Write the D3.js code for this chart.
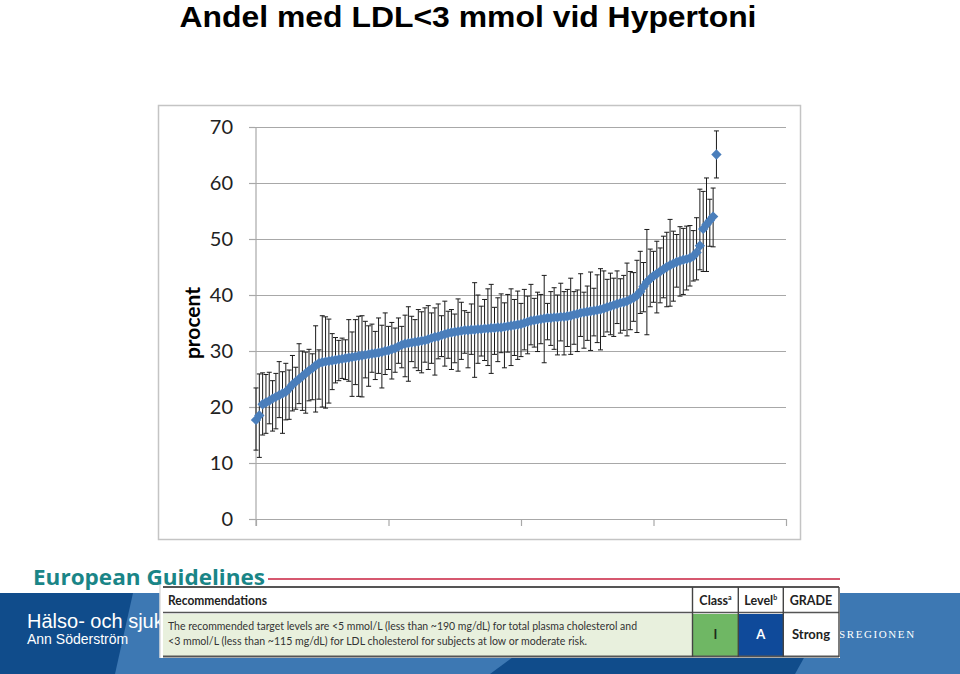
<!DOCTYPE html>
<html><head><meta charset="utf-8">
<script src="https://cdn.jsdelivr.net/npm/d3@7/dist/d3.min.js"></script>
<style>html,body{margin:0;padding:0;background:#fff;} svg{display:block;}</style>
</head><body>
<svg id="c" width="960" height="674"></svg>
<script>
// ---------- DATA ----------
const title = "Andel med LDL<3 mmol vid Hypertoni";
const yLabel = "procent";
const yTicks = [0, 10, 20, 30, 40, 50, 60, 70];
const xTickCats = [0, 40, 80, 120, 160];

const values = [
 17.7,18.5,20.5,20.8,21.1,21.5,21.8,22.1,22.4,22.7,
 23.3,24.0,24.5,25.0,25.5,26.0,26.5,26.9,27.4,27.8,
 28.0,28.1,28.2,28.3,28.4,28.5,28.6,28.7,28.8,28.9,
 29.0,29.1,29.2,29.3,29.4,29.5,29.6,29.7,29.8,30.0,
 30.1,30.3,30.5,30.8,31.1,31.3,31.4,31.5,31.6,31.7,
 31.8,31.9,32.1,32.3,32.5,32.6,32.8,33.0,33.2,33.3,
 33.4,33.5,33.6,33.7,33.7,33.8,33.8,33.9,33.9,34.0,
 34.0,34.1,34.1,34.2,34.2,34.3,34.4,34.5,34.6,34.7,
 34.8,35.0,35.2,35.4,35.5,35.6,35.7,35.8,35.9,35.9,
 36.0,36.0,36.1,36.1,36.2,36.3,36.5,36.6,36.8,36.9,
 37.0,37.1,37.2,37.3,37.4,37.6,37.8,38.0,38.2,38.4,
 38.6,38.7,38.9,39.2,39.5,39.9,40.6,41.5,42.3,42.9,
 43.4,43.8,44.2,44.6,45.0,45.3,45.6,45.9,46.1,46.3,
 46.4,46.6,46.9,47.6,48.8,51.8,52.6,53.3,54.0,65.1
];
const upper = [
 23.4,25.9,26.1,25.8,26.2,24.7,26.0,28.1,26.3,27.8,
 26.6,29.2,27.1,31.3,30.0,29.8,30.3,29.5,34.5,30.2,
 36.3,36.1,35.7,33.1,32.4,31.9,32.3,32.0,35.6,33.4,
 35.6,36.2,36.3,35.3,34.5,34.8,33.5,35.9,34.6,36.8,
 34.4,35.1,34.1,35.9,34.4,36.4,37.9,36.2,35.6,37.4,
 37.0,37.7,38.1,36.8,37.7,38.4,36.3,38.9,37.1,37.4,
 36.6,39.3,38.7,37.2,36.9,38.4,42.2,40.0,38.0,39.2,
 41.1,41.9,37.8,39.5,40.2,38.6,40.1,41.1,39.2,40.7,
 38.5,41.0,39.8,41.9,39.4,40.5,40.1,43.5,38.5,40.6,
 41.3,40.0,42.1,40.6,41.0,43.0,40.6,40.9,43.8,40.5,
 41.6,44.1,41.2,43.6,44.7,44.3,42.8,43.9,43.0,44.3,
 42.9,43.5,45.7,44.2,44.0,46.2,47.8,45.8,51.7,48.2,
 47.8,49.6,48.4,50.5,51.2,53.5,51.4,50.8,52.2,51.9,
 52.3,52.4,51.5,53.8,58.9,58.5,60.9,57.1,59.1,69.3
];
const lower = [
 12.3,11.0,15.0,15.3,17.0,15.7,16.1,18.1,15.3,17.7,
 17.8,19.3,19.6,20.6,19.4,18.9,21.1,21.3,19.1,21.4,
 20.0,19.8,20.7,23.1,24.3,24.7,25.1,24.9,24.6,21.9,
 24.0,21.9,21.8,25.2,23.7,26.2,24.9,26.0,23.4,25.8,
 26.7,25.0,26.2,27.8,27.0,25.4,24.6,28.1,27.0,26.5,
 26.1,28.0,26.7,27.8,25.7,28.6,29.0,27.3,28.7,26.7,
 27.9,26.4,28.5,29.6,27.0,29.4,25.3,27.8,29.1,28.3,
 27.4,26.0,29.4,28.1,29.7,27.0,29.8,27.4,29.2,28.5,
 29.0,30.2,29.5,31.1,30.7,29.9,31.3,27.9,32.0,31.0,
 30.3,29.3,31.8,29.3,30.8,29.4,31.2,29.9,32.6,30.5,
 31.9,30.1,32.7,31.5,30.2,32.6,33.4,32.9,32.6,34.9,
 33.2,33.7,32.7,33.8,35.3,33.3,36.7,37.0,32.9,37.9,
 38.7,36.8,38.6,39.5,37.9,38.0,38.9,41.4,39.8,40.1,
 40.9,41.6,42.5,42.7,44.5,44.2,44.2,48.7,48.6,60.9
];
const units = values.map((v, i) => i); // category index of each unit

const guideHeading = "European Guidelines";
const tableHead = ["Recommendations", "Class", "Level", "GRADE"];
const tableHeadSup = ["", "a", "b", ""];
const tableRow = [
  "The recommended target levels are <5 mmol/L (less than ~190 mg/dL) for total plasma cholesterol and",
  "<3 mmol/L (less than ~115 mg/dL) for LDL cholesterol for subjects at low or moderate risk."
];
const tableCells = ["I", "A", "Strong"];
const footerTexts = ["Hälso- och sjukv", "Ann Söderström", "SREGIONEN"];

// ---------- DRAW ----------
const svg = d3.select("#c");
svg.append("rect").attr("width", 960).attr("height", 674).attr("fill", "#fff");

// title
svg.append("text").attr("x", 468).attr("y", 27).attr("text-anchor", "middle")
  .attr("font-family", "Liberation Sans, Arial, sans-serif").attr("font-weight", "bold")
  .attr("font-size", 29.5).attr("textLength", 577).attr("lengthAdjust", "spacingAndGlyphs")
  .attr("fill", "#000").text(title);

// chart frame
svg.append("rect").attr("x", 158.5).attr("y", 105.5).attr("width", 642).attr("height", 434)
  .attr("fill", "#fff").attr("stroke", "#c4c4c4").attr("stroke-width", 1.5);

const x = d3.scaleLinear().domain([0, 160]).range([256, 786]);
const y = d3.scaleLinear().domain([0, 70]).range([519, 127]);

// gridlines
const grid = svg.append("g").attr("transform", "translate(256,0)")
  .call(d3.axisRight(y).tickValues(yTicks).tickSize(530).tickFormat(""));
grid.select(".domain").remove();
grid.selectAll("line").attr("stroke", "#a8a8a8").attr("stroke-width", 1.2);

// y axis
const ya = svg.append("g").attr("transform", "translate(256,0)")
  .call(d3.axisLeft(y).tickValues(yTicks).tickSize(7).tickSizeOuter(0).tickPadding(16));
ya.select(".domain").attr("stroke", "#a8a8a8").attr("stroke-width", 1.2)
  .attr("d", `M0,${y(70)}V${y(0) + 7}`);
ya.selectAll("line").attr("stroke", "#a8a8a8").attr("stroke-width", 1.2);
ya.selectAll("text").attr("font-family", "Lato, Carlito, sans-serif").attr("font-size", 20)
  .attr("fill", "#222");

// x axis
const xa = svg.append("g").attr("transform", `translate(0,${y(0)})`)
  .call(d3.axisBottom(x).tickValues(xTickCats).tickSize(7).tickSizeOuter(0).tickFormat(""));
xa.select(".domain").attr("stroke", "#a8a8a8").attr("stroke-width", 1.2);
xa.selectAll("line").attr("stroke", "#a8a8a8").attr("stroke-width", 1.2);

// y label
svg.append("text").attr("transform", "translate(200,323) rotate(-90)")
  .attr("text-anchor", "middle").attr("font-family", "Lato, Carlito, sans-serif")
  .attr("font-weight", "bold").attr("font-size", 21).attr("fill", "#000").text(yLabel);

// error bars
const eb = svg.append("g").attr("stroke", "#1a1a1a").attr("stroke-width", 1);
units.forEach(i => {
  const cx = x(i);
  eb.append("line").attr("x1", cx).attr("x2", cx).attr("y1", y(lower[i])).attr("y2", y(upper[i]));
  eb.append("line").attr("x1", cx - 2.5).attr("x2", cx + 2.5).attr("y1", y(lower[i])).attr("y2", y(lower[i]));
  eb.append("line").attr("x1", cx - 2.5).attr("x2", cx + 2.5).attr("y1", y(upper[i])).attr("y2", y(upper[i]));
});

// diamond markers
const sym = d3.symbol(d3.symbolSquare, 54);
svg.append("g").selectAll("path").data(units).join("path")
  .attr("d", sym)
  .attr("transform", i => `translate(${x(i)},${y(values[i])}) rotate(45)`)
  .attr("fill", "#4a7ebb");

// ---------- footer ----------
const foot = svg.append("g");
foot.append("rect").attr("x", 0).attr("y", 593).attr("width", 960).attr("height", 81).attr("fill", "#104c8b");
foot.append("path").attr("d", "M133,593 L600,593 L490,674 L115,674 Z").attr("fill", "#3d78b3");
foot.append("path").attr("d", "M840,593 L960,593 L960,674 L795,674 Z").attr("fill", "#3d78b3");
foot.append("text").attr("x", 27).attr("y", 628).attr("font-family", "Liberation Sans, Arial, sans-serif")
  .attr("font-size", 20).attr("fill", "#fff").text(footerTexts[0]);
foot.append("text").attr("x", 27).attr("y", 644).attr("font-family", "Liberation Sans, Arial, sans-serif")
  .attr("font-size", 14).attr("fill", "#fff").text(footerTexts[1]);
foot.append("text").attr("x", 839).attr("y", 638).attr("font-family", "Liberation Serif, serif")
  .attr("font-size", 11).attr("letter-spacing", 1.6).attr("fill", "#fff").text(footerTexts[2]);

// European Guidelines heading
svg.append("text").attr("x", 33).attr("y", 585).attr("font-family", "Open Sans, Liberation Sans, sans-serif")
  .attr("font-weight", "bold").attr("font-size", 22).attr("textLength", 232).attr("lengthAdjust", "spacingAndGlyphs")
  .attr("fill", "#1a8587").text(guideHeading);
svg.append("line").attr("x1", 268).attr("x2", 840).attr("y1", 579).attr("y2", 579)
  .attr("stroke", "#c8203f").attr("stroke-width", 1.6);

// table
const tb = svg.append("g");
tb.append("rect").attr("x", 160).attr("y", 585).attr("width", 680).attr("height", 73).attr("fill", "#fff");
tb.append("rect").attr("x", 163).attr("y", 614).attr("width", 529).attr("height", 42).attr("fill", "#e8f0dd");
tb.append("rect").attr("x", 693).attr("y", 614).attr("width", 45).attr("height", 42).attr("fill", "#6fb764");
tb.append("rect").attr("x", 739).attr("y", 614).attr("width", 44).attr("height", 42).attr("fill", "#0f4a9a");
tb.append("line").attr("x1", 160).attr("x2", 160).attr("y1", 585).attr("y2", 658).attr("stroke", "#ddd").attr("stroke-width", 1.5);
[[163, 839, 587, 2], [163, 839, 612.5, 1.5], [163, 839, 656.5, 1.8]].forEach(l => {
  tb.append("line").attr("x1", l[0]).attr("x2", l[1]).attr("y1", l[2]).attr("y2", l[2])
    .attr("stroke", "#555").attr("stroke-width", l[3]);
});
[692.5, 738.3, 783.3, 839].forEach(cx => {
  tb.append("line").attr("x1", cx).attr("x2", cx).attr("y1", 587).attr("y2", 657)
    .attr("stroke", "#444").attr("stroke-width", 1.4);
});
const tf = "Lato, Open Sans, sans-serif";
tb.append("text").attr("x", 168).attr("y", 605).attr("font-family", tf).attr("font-weight", "bold")
  .attr("font-size", 12.5).attr("textLength", 99).attr("lengthAdjust", "spacingAndGlyphs")
  .attr("fill", "#222").text(tableHead[0]);
const headX = [0, 715.5, 760.8, 811];
[1, 2, 3].forEach(k => {
  const t = tb.append("text").attr("x", headX[k]).attr("y", 605).attr("text-anchor", "middle")
    .attr("font-family", tf).attr("font-weight", "bold").attr("font-size", 12.5).attr("fill", "#222");
  t.append("tspan").text(tableHead[k]);
  if (tableHeadSup[k]) t.append("tspan").attr("font-size", 7).attr("dy", -5).text(tableHeadSup[k]);
});
tb.append("text").attr("x", 168).attr("y", 630).attr("font-family", tf).attr("font-size", 11.5)
  .attr("textLength", 469).attr("lengthAdjust", "spacingAndGlyphs").attr("fill", "#333").text(tableRow[0]);
tb.append("text").attr("x", 168).attr("y", 645).attr("font-family", tf).attr("font-size", 11.5)
  .attr("textLength", 419).attr("lengthAdjust", "spacingAndGlyphs").attr("fill", "#333").text(tableRow[1]);
const cellX = [715.5, 760.8, 811];
const cellCol = ["#1e2a1a", "#fff", "#222"];
tableCells.forEach((c, k) => {
  tb.append("text").attr("x", cellX[k]).attr("y", 639).attr("text-anchor", "middle")
    .attr("font-family", tf).attr("font-weight", "bold").attr("font-size", 13)
    .attr("fill", cellCol[k]).text(c);
});
</script>
</body></html>
